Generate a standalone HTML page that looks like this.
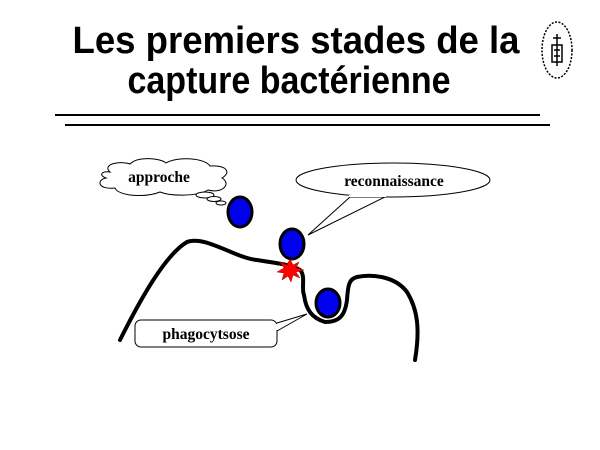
<!DOCTYPE html>
<html><head><meta charset="utf-8"><style>html,body{margin:0;padding:0;background:#fff}svg{display:block}</style></head>
<body>
<svg width="600" height="450" viewBox="0 0 600 450" xmlns="http://www.w3.org/2000/svg">
<rect width="600" height="450" fill="#fff"/>
<g font-family="Liberation Sans, Arial, sans-serif" font-weight="bold" font-size="38" fill="#000" text-anchor="middle">
<text x="296" y="53" textLength="447" lengthAdjust="spacingAndGlyphs">Les premiers stades de la</text>
<text x="289" y="93" textLength="323" lengthAdjust="spacingAndGlyphs">capture bactérienne</text>
</g>
<line x1="55" y1="115" x2="540" y2="115" stroke="#000" stroke-width="2"/>
<line x1="65" y1="125" x2="550" y2="125" stroke="#000" stroke-width="2"/>
<g fill="none" stroke="#000">
<ellipse cx="557" cy="50" rx="15" ry="28" stroke-width="1.5" stroke-dasharray="2 1.5"/>
<path d="M553 38 L561 38 M557 34 L557 66 M552 45 L562 45 L562 62 L552 62 Z M554 50 L560 50 M554 56 L560 56" stroke-width="1.5"/>
</g>
<path d="M120 340 C140 300 165 255 187 242 C205 235 235 258 257 260 C275 263 290 264 300 270 C306 276 301 288 304 295 C306 310 312 318 325 322 C340 322 345 315 347 300 C348 285 349 279 357 277 C372 274 395 276 407 292 C418 310 420 330 415 360" fill="none" stroke="#000" stroke-width="4" stroke-linecap="round" stroke-linejoin="round"/>
<g fill="#0000ee" stroke="#000" stroke-width="3">
<ellipse cx="240" cy="212" rx="12" ry="15"/>
<ellipse cx="292" cy="244" rx="12" ry="15"/>
<ellipse cx="328" cy="303" rx="12" ry="14"/>
</g>
<polygon points="290,259 293,265 299,262 296,268 304,270 296,272 300,278 293,275 291,282 288,276 282,280 284,273 277,272 284,268 280,262 287,265" fill="#ff0000" stroke="#aa0000" stroke-width="0.5"/>
<path d="M110 172 C102 165 118 160 130 164 C138 156 160 158 166 163 C178 156 205 158 210 166 C226 165 232 172 222 178 C232 184 222 194 208 190 C196 197 170 196 160 192 C145 198 118 196 115 188 C98 190 96 180 106 178 C98 175 102 171 110 172 Z" fill="#fff" stroke="#000" stroke-width="1"/>
<ellipse cx="205" cy="195" rx="9" ry="3" fill="#fff" stroke="#000" stroke-width="1"/>
<ellipse cx="214" cy="199" rx="7" ry="2.5" fill="#fff" stroke="#000" stroke-width="1"/>
<ellipse cx="221" cy="203" rx="5" ry="2" fill="#fff" stroke="#000" stroke-width="1"/>
<path d="M350 197 L308 235 L385 197 Z" fill="#fff" stroke="#000" stroke-width="1"/>
<ellipse cx="393" cy="180" rx="97" ry="17" fill="#fff" stroke="#000" stroke-width="1"/>
<path d="M349 196 L386 196" stroke="#fff" stroke-width="2"/>
<path d="M277 323 L307 314 L277 331" fill="#fff" stroke="#000" stroke-width="1"/>
<rect x="135" y="320" width="142" height="27" rx="6" fill="#fff" stroke="#000" stroke-width="1"/>
<path d="M277 324 L277 330" stroke="#fff" stroke-width="2"/>
<g font-family="Liberation Serif, Times New Roman, serif" font-weight="bold" font-size="15.5" fill="#000" text-anchor="middle">
<text x="159" y="182">approche</text>
<text x="394" y="186">reconnaissance</text>
<text x="206" y="339">phagocytsose</text>
</g>
</svg>
</body></html>
